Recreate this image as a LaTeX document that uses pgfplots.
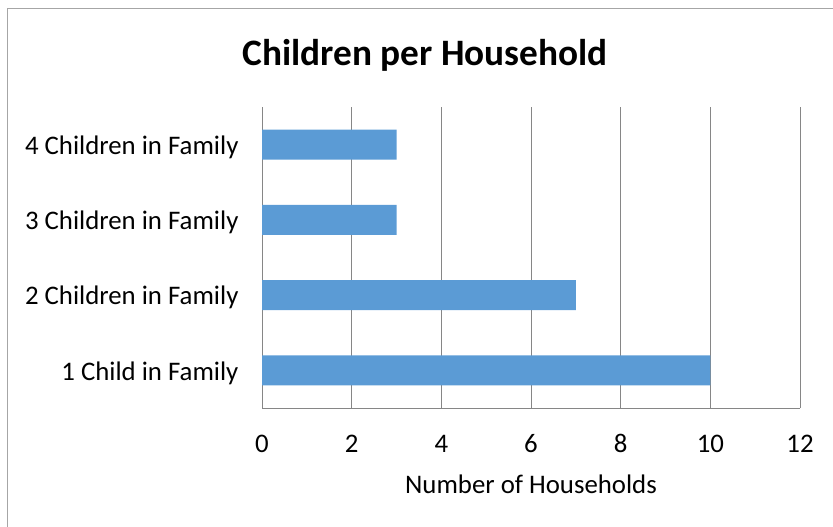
\documentclass[border=0pt]{standalone}
\usepackage{pgfplots}
\pgfplotsset{compat=1.18}
\usepackage{fontspec}
\setmainfont{Carlito}
\definecolor{barblue}{HTML}{5B9BD5}
\definecolor{gridgray}{HTML}{868686}
\definecolor{bordergray}{HTML}{A6A6A6}
\begin{document}
\begin{tikzpicture}[x=1pt,y=1pt]
\useasboundingbox (0,0) rectangle (833,-527);
\draw[bordergray, line width=1.3pt] (7.5,-8.5) rectangle (845,-540);
\node[font=\fontsize{37.3}{44}\selectfont\bfseries] at (425,-55) {Children per Household};
\begin{axis}[
  at={(262pt,-408pt)}, anchor=south west,
  scale only axis, width=538pt, height=301pt,
  xbar, bar width=30pt,
  xmin=0, xmax=12, xtick={0,2,...,12},
  ymin=-0.5, ymax=3.5, ytick={0,1,2,3},
  yticklabels={1 Child in Family, 2 Children in Family, 3 Children in Family, 4 Children in Family},
  axis x line*=bottom, axis y line*=left,
  axis line style={-, gridgray, line width=0.8pt},
  xmajorgrids, grid style={gridgray, line width=0.8pt},
  major tick length=0pt,
  /pgf/number format/assume math mode=true,
  tick label style={font=\fontsize{26.8}{32}\selectfont, text=black},
  xticklabel style={anchor=base, yshift=-44pt},
  yticklabel style={xshift=-20pt, yshift=-2.5pt},
  xlabel={Number of Households},
  xlabel style={font=\fontsize{26.8}{32}\selectfont, anchor=base, at={(axis description cs:0.5,0)}, yshift=-85pt},
]
\addplot[fill=barblue, draw=none] coordinates {(10,0) (7,1) (3,2) (3,3)};
\end{axis}
\end{tikzpicture}
\end{document}
